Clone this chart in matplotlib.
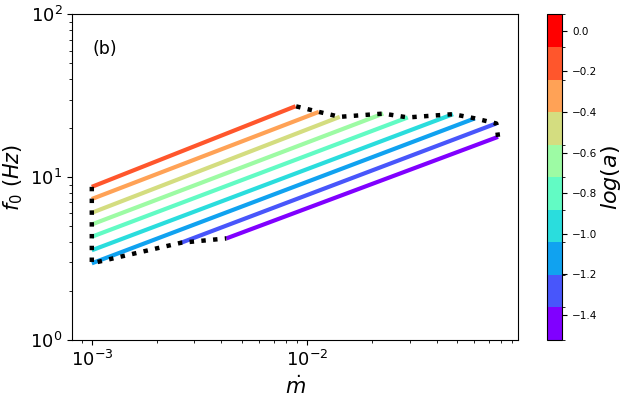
import matplotlib
matplotlib.use("Agg")
import matplotlib.pyplot as plt
import numpy as np
from matplotlib.colors import ListedColormap, BoundaryNorm
from matplotlib.cm import ScalarMappable

# log(a) colour range (10 bands)
loga_min, loga_max = -1.523, 0.080
cbar_ticks = [-1.4, -1.2, -1.0, -0.8, -0.6, -0.4, -0.2, 0.0]

# one line per log(a) band, bottom (purple) to top (red-orange)
mdot_start = [0.00422, 0.0026, 0.001, 0.001, 0.001, 0.001, 0.001, 0.001, 0.001]
f0_start = [4.21, 3.96, 2.96, 3.56, 4.31, 5.13, 6.05, 7.35, 8.73]
mdot_end = [0.0772, 0.0758, 0.0603, 0.0477, 0.0294, 0.0226, 0.0142, 0.01135, 0.00885]
f0_end = [17.7, 21.4, 23.0, 24.4, 23.3, 24.6, 23.5, 25.2, 27.3]

cmap = ListedColormap(plt.cm.rainbow(np.linspace(0, 1, 10)))
bounds = np.linspace(loga_min, loga_max, 11)
norm = BoundaryNorm(bounds, cmap.N)

fig = plt.figure(figsize=(6.27, 4.01), dpi=100)
ax = fig.add_axes([0.115, 0.152, 0.711, 0.812])
cax = fig.add_axes([0.872, 0.152, 0.025, 0.812])

for i in range(len(f0_start)):
    ax.plot([mdot_start[i], mdot_end[i]], [f0_start[i], f0_end[i]],
            color=cmap(i), lw=3, solid_capstyle="butt")

# dotted boundaries through the start and end points
ax.plot(mdot_start[::-1], f0_start[::-1], ":", color="k", lw=3.2)
ax.plot(mdot_end, f0_end, ":", color="k", lw=3.2)

ax.set_xscale("log")
ax.set_yscale("log")
ax.set_xlim(8.1e-4, 0.0955)
ax.set_ylim(1, 100)
ax.tick_params(labelsize=13)
ax.set_xlabel(r"$\dot{m}$", fontsize=15)
ax.set_ylabel(r"$f_0\ (Hz)$", fontsize=15)
ax.text(0.045, 0.88, "(b)", transform=ax.transAxes, fontsize=12.5)

sm = ScalarMappable(norm=norm, cmap=cmap)
cb = fig.colorbar(sm, cax=cax, ticks=cbar_ticks)
cb.ax.tick_params(labelsize=7.5)
cb.set_label(r"$log(a)$", fontsize=16, labelpad=1)

fig.savefig("out.png", dpi=100)
